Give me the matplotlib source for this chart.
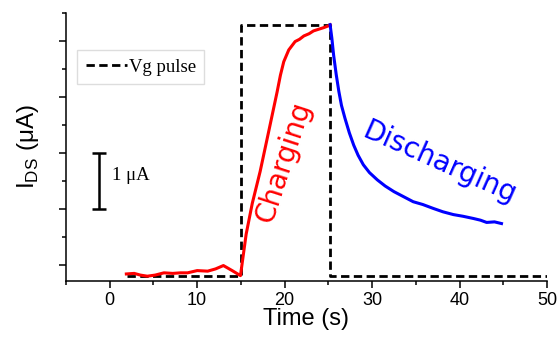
import matplotlib.pyplot as plt
from matplotlib.ticker import MultipleLocator

# Vg pulse (dashed square wave)
pulse_t = [2.0, 15.0, 15.0, 25.2, 25.2, 50.0]
pulse_i = [-0.20, -0.20, 4.29, 4.29, -0.20, -0.20]

# charging current (red)
charge_t = [1.9, 2.8, 3.5, 4.3, 5.2, 6.2, 7.2, 8.1, 8.9, 10.0, 11.2, 12.1,
            13.0, 14.0, 14.95, 15.6, 16.3, 17.2, 18.2, 19.14, 19.52, 19.9,
            20.47, 21.2, 21.7, 22.2, 22.8, 23.3, 23.9, 24.5, 25.0, 25.2]
charge_i = [-0.16, -0.15, -0.18, -0.20, -0.18, -0.14, -0.15, -0.14, -0.14,
            -0.10, -0.11, -0.07, -0.01, -0.10, -0.19, 0.55, 1.10, 1.67,
            2.40, 3.09, 3.39, 3.63, 3.84, 3.99, 4.03, 4.09, 4.13, 4.18,
            4.21, 4.24, 4.27, 4.29]

# discharging current (blue)
discharge_t = [25.2, 25.4, 25.6, 25.9, 26.2, 26.5, 26.9, 27.4, 27.9, 28.4,
               29.0, 29.7, 30.6, 31.5, 32.5, 33.6, 34.7, 35.8, 37.0, 38.1,
               39.3, 40.4, 41.6, 42.4, 43.1, 44.0, 44.8]
discharge_i = [4.29, 4.05, 3.75, 3.40, 3.10, 2.85, 2.62, 2.36, 2.14, 1.96,
               1.79, 1.65, 1.52, 1.41, 1.31, 1.22, 1.13, 1.08, 1.01, 0.95,
               0.90, 0.87, 0.83, 0.80, 0.76, 0.77, 0.74]

fig = plt.figure(figsize=(5.57, 3.38), dpi=100)
ax = fig.add_axes([0.1185, 0.1686, 0.8635, 0.793])

ax.plot(pulse_t, pulse_i, color='black', lw=2.0, ls=(0, (3, 1.6)), label='Vg pulse')
ax.plot(charge_t, charge_i, color='#ff0000', lw=2.2)
ax.plot(discharge_t, discharge_i, color='#0000ff', lw=2.2)

ax.set_xlim(-5, 50)
ax.set_ylim(-0.286, 4.5)
ax.xaxis.set_major_locator(MultipleLocator(10))
ax.xaxis.set_minor_locator(MultipleLocator(5))
ax.yaxis.set_major_locator(MultipleLocator(1))
ax.yaxis.set_minor_locator(MultipleLocator(0.5))
ax.set_yticklabels([])
ax.tick_params(which='major', direction='out', length=5, width=1.1, labelsize=13, pad=3)
ax.tick_params(which='minor', direction='out', length=3, width=1.1)
for lbl in ax.get_xticklabels():
    lbl.set_family('Liberation Sans')

for side in ['top', 'right']:
    ax.spines[side].set_visible(False)
for side in ['left', 'bottom']:
    ax.spines[side].set_linewidth(1.1)

ax.set_xlabel('Time (s)', family='Liberation Sans', fontsize=17, labelpad=-1)
ax.set_ylabel(r'I$_{\mathregular{DS}}$ ($\mathregular{\mu}$A)', family='Liberation Sans',
              fontsize=17.5, labelpad=10)

leg = ax.legend(loc='upper left', bbox_to_anchor=(0.023, 0.862), borderaxespad=0,
                prop={'family': 'Liberation Serif', 'size': 13.5}, handlelength=2.2,
                handletextpad=0.1, fancybox=False, framealpha=1, borderpad=0.45)
leg.get_frame().set_edgecolor('#dddddd')
leg.get_frame().set_linewidth(1.0)

# scale bar for 1 uA
ax.errorbar([-1.2], [1.5], yerr=[[0.5], [0.5]], color='black', capsize=5,
            elinewidth=1.8, capthick=1.8)
ax.text(0.3, 1.6, '1 \u03bcA', family='Liberation Serif', fontsize=13.5,
        ha='left', va='center')

ax.text(19.9, 1.84, 'Charging', color='#ff0000', fontsize=20, rotation=72,
        ha='center', va='center')
ax.text(37.7, 1.82, 'Discharging', color='#0000ff', fontsize=20, rotation=-24,
        ha='center', va='center')

fig.savefig('out.png', dpi=100)
